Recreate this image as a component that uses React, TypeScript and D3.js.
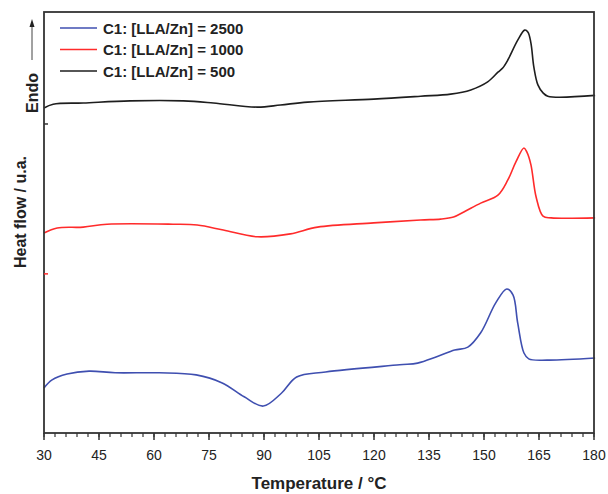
import React from "react";
import * as d3 from "d3";

// Temperature (°C) and heat flow (a.u.)
const blackT = [30, 32.5, 40.7, 53.5, 68.0, 76.2, 88.2, 94.5, 101.9, 119.9, 132.7, 140.9, 146.4, 151.0, 153.8, 155.1, 156.5, 159.2, 161.1, 162.0, 162.8, 163.6, 164.7, 166.1, 167.4, 180.3];
const blackV = [77.2, 78.1, 78.4, 78.9, 78.9, 78.4, 77.4, 77.9, 78.6, 79.3, 80.0, 80.5, 81.5, 83.4, 85.7, 86.7, 88.6, 93.3, 95.7, 95.2, 92.6, 86.9, 82.7, 80.8, 80.0, 80.2];

const redT = [30, 33.6, 40.7, 47.2, 65.2, 71.8, 78.9, 88.2, 97.2, 104.6, 119.9, 132.7, 138.2, 141.7, 144.5, 149.1, 153.8, 156.5, 158.7, 160.9, 161.7, 162.8, 164.2, 166.1, 168.3, 180.3];
const redV = [47.5, 48.7, 48.9, 49.6, 49.6, 49.4, 48.2, 46.6, 47.3, 48.9, 49.9, 50.6, 50.8, 51.3, 52.5, 54.6, 56.5, 60.1, 64.4, 67.7, 66.7, 63.7, 56.1, 51.5, 51.1, 51.1];

const blueT = [30, 32.2, 36.3, 42.3, 49.4, 61.4, 71.5, 78.6, 84.6, 89.8, 94.8, 98.9, 106.8, 127.0, 131.9, 137.1, 142.0, 145.6, 149.1, 153.2, 156.2, 157.9, 159.2, 160.9, 162.2, 167.4, 180.3];
const blueV = [10.7, 12.6, 14.0, 14.7, 14.3, 14.3, 13.8, 11.9, 8.6, 6.4, 9.5, 13.3, 14.5, 16.2, 16.6, 18.1, 19.7, 20.4, 23.8, 30.9, 34.2, 32.8, 26.1, 19.0, 17.6, 17.3, 17.8];

const seriesNames = ["C1: [LLA/Zn] = 2500", "C1: [LLA/Zn] = 1000", "C1: [LLA/Zn] = 500"];
const seriesColors = ["#3f4fb0", "#ff2b2b", "#1e1e1e"];

const xMajorTicks = [30, 45, 60, 75, 90, 105, 120, 135, 150, 165, 180];
const xMinorTicks = d3.range(30, 180.01, 3);
const yMarkTicks = [73.4, 37.8];
const yMarkColors = ["#333333", "#ff2b2b"];

export default function App() {
  const W = 608, H = 494;
  const left = 44, right = 594, top = 12, bottom = 433;
  const x = d3.scaleLinear().domain([30, 180]).range([left, right]);
  const y = d3.scaleLinear().domain([0, 100]).range([bottom, top]);
  const line = d3
    .line<[number, number]>()
    .x((d) => x(d[0]))
    .y((d) => y(d[1]))
    .curve(d3.curveCatmullRom.alpha(0.5));

  const series = [
    { T: blueT, V: blueV },
    { T: redT, V: redV },
    { T: blackT, V: blackV },
  ];
  const font = "'Liberation Sans', Arial, sans-serif";
  const axisColor = "#333333";

  return (
    <div style={{ position: "absolute", left: 0, top: 0 }}>
      <svg width={W} height={H} style={{ display: "block", background: "#fff" }}>
        {/* curves */}
        {series.map((s, i) => (
          <path
            key={i}
            d={line(s.T.map((t, j) => [t, s.V[j]] as [number, number])) || ""}
            fill="none"
            stroke={seriesColors[i]}
            strokeWidth={1.6}
          />
        ))}
        {/* frame */}
        <rect x={left} y={top} width={right - left} height={bottom - top} fill="none" stroke={axisColor} strokeWidth={1.8} />
        {/* y marks */}
        {yMarkTicks.map((v, i) => (
          <line key={i} x1={left} x2={left + 4} y1={y(v)} y2={y(v)} stroke={yMarkColors[i]} strokeWidth={1.5} />
        ))}
        {/* x ticks */}
        {xMinorTicks.map((t, i) => (
          <line key={"m" + i} x1={x(t)} x2={x(t)} y1={bottom} y2={bottom + 4} stroke={axisColor} strokeWidth={1.2} />
        ))}
        {xMajorTicks.map((t, i) => (
          <g key={"M" + i}>
            <line x1={x(t)} x2={x(t)} y1={bottom} y2={bottom + 7} stroke={axisColor} strokeWidth={1.5} />
            <text x={x(t)} y={bottom + 27} textAnchor="middle" fontFamily={font} fontSize={14} fill="#222">
              {t}
            </text>
          </g>
        ))}
        {/* axis titles */}
        <text x={(left + right) / 2} y={489} textAnchor="middle" fontFamily={font} fontSize={17} fontWeight="bold" fill="#222">
          Temperature / °C
        </text>
        <text
          transform={`translate(26, 212) rotate(-90)`}
          textAnchor="middle"
          fontFamily={font}
          fontSize={16}
          fontWeight="bold"
          fill="#222"
        >
          Heat flow / u.a.
        </text>
        {/* Endo arrow */}
        <text
          transform={`translate(38, 93) rotate(-90)`}
          textAnchor="middle"
          fontFamily={font}
          fontSize={16}
          fontWeight="bold"
          fill="#222"
        >
          Endo
        </text>
        <line x1={32} x2={32} y1={60} y2={25} stroke="#444" strokeWidth={1} />
        <path d="M32,19 L29.5,27 L34.5,27 Z" fill="#222" />
        {/* legend */}
        {seriesNames.map((n, i) => {
          const ly = 28 + i * 21.5;
          return (
            <g key={"l" + i}>
              <line x1={60} x2={97} y1={ly} y2={ly} stroke={seriesColors[i]} strokeWidth={1.6} />
              <text x={103} y={ly + 5.5} fontFamily={font} fontSize={15} fontWeight="bold" fill="#222">
                {n}
              </text>
            </g>
          );
        })}
      </svg>
    </div>
  );
}
